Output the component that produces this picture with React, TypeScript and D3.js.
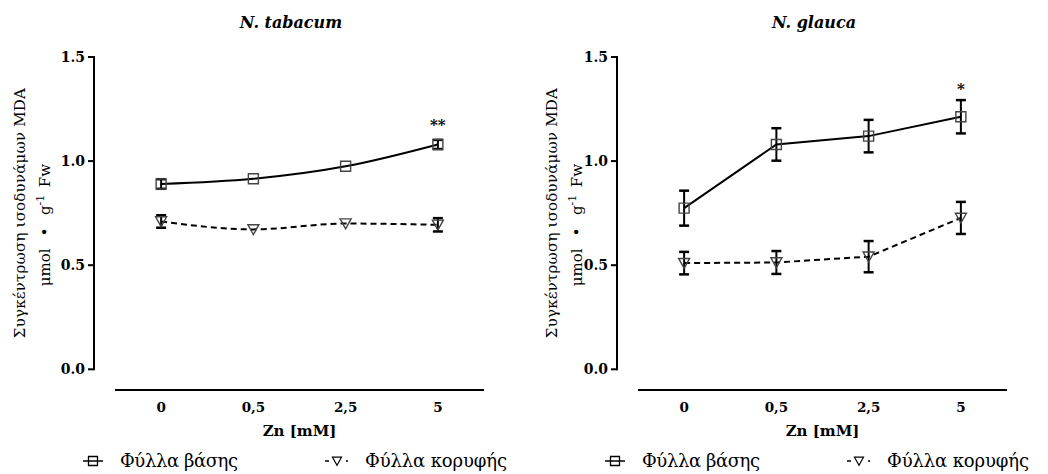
import React from "react";
import * as d3 from "d3";

const categories = ["0", "0,5", "2,5", "5"];
const yTicks = [0, 0.5, 1.0, 1.5];

const tabacumBase = [0.89, 0.915, 0.975, 1.08];
const tabacumBaseErr = [0.023, 0, 0, 0.022];
const tabacumTop = [0.71, 0.672, 0.7, 0.694];
const tabacumTopErr = [0.03, 0, 0, 0.032];

const glaucaBase = [0.774, 1.08, 1.12, 1.213];
const glaucaBaseErr = [0.084, 0.078, 0.078, 0.08];
const glaucaTop = [0.51, 0.513, 0.541, 0.727];
const glaucaTopErr = [0.054, 0.055, 0.075, 0.077];

const titles = ["N. tabacum", "N. glauca"];
const stars = ["**", "*"];
const legendLabels = ["Φύλλα βάσης", "Φύλλα κορυφής"];
const yLabel1 = "Συγκέντρωση ισοδυνάμων MDA";
const xLabel = "Zn [mM]";

const FONT = "DejaVu Serif, serif";

type PanelProps = {
  dx: number;
  title: string;
  base: number[];
  baseErr: number[];
  top: number[];
  topErr: number[];
  star: string;
  curved: boolean;
  labelOffset: number;
};

function sqPath(s: number) {
  return `M${-s},${-s}H${s}V${s}H${-s}Z`;
}
function triPath(s: number) {
  return `M${-s},${-s * 0.85}H${s}L0,${s * 0.95}Z`;
}

function Panel({ dx, title, base, baseErr, top, topErr, star, curved, labelOffset }: PanelProps) {
  const axisX = 94 + dx;
  const x = d3.scaleBand<string>().domain(categories).range([115 + dx, 484 + dx]);
  const cx = (c: string) => (x(c) as number) + x.bandwidth() / 2;
  const y = d3.scaleLinear().domain([0, 1.5]).range([369.3, 57]);
  const line = d3
    .line<number>()
    .x((_, i) => cx(categories[i]))
    .y((v) => y(v))
    .curve(curved ? d3.curveMonotoneX : d3.curveLinear);

  const errBars = (vals: number[], errs: number[], key: string) =>
    vals.map((v, i) => {
      if (!errs[i]) return null;
      const px = cx(categories[i]);
      const y1 = y(v + errs[i]);
      const y2 = y(v - errs[i]);
      return (
        <g key={key + i} stroke="#000" strokeWidth={2}>
          <line x1={px} x2={px} y1={y1} y2={y2} />
          <line x1={px - 5} x2={px + 5} y1={y1} y2={y1} strokeWidth={2.5} />
          <line x1={px - 5} x2={px + 5} y1={y2} y2={y2} strokeWidth={2.5} />
        </g>
      );
    });

  const yMid = (y(0) + y(1.5)) / 2;
  const lx1 = axisX - labelOffset;
  const lx2 = lx1 + 25;

  return (
    <g style={{ fontFamily: FONT }}>
      <text x={291 + dx} y={28} textAnchor="middle" fontSize={16} fontWeight="bold" fontStyle="italic">
        {title}
      </text>
      <line x1={axisX} x2={axisX} y1={y(1.5) - 1} y2={y(0) + 1} stroke="#000" strokeWidth={2} />
      {yTicks.map((t) => (
        <g key={t}>
          <line x1={axisX - 6} x2={axisX} y1={y(t)} y2={y(t)} stroke="#000" strokeWidth={2} />
          <text x={axisX - 9} y={y(t)} dy="0.35em" textAnchor="end" fontSize={14} fontWeight="bold">
            {t.toFixed(1)}
          </text>
        </g>
      ))}
      <line x1={115 + dx} x2={484 + dx} y1={390} y2={390} stroke="#000" strokeWidth={2} />
      {categories.map((c) => (
        <text key={c} x={cx(c)} y={412} textAnchor="middle" fontSize={13.5} fontWeight="bold">
          {c}
        </text>
      ))}
      <text x={(x.range()[0] + x.range()[1]) / 2} y={436} textAnchor="middle" fontSize={15} fontWeight="bold">
        {xLabel}
      </text>
      <text transform={`translate(${lx1},${yMid}) rotate(-90)`} textAnchor="middle" dy="0.35em" fontSize={15} textLength={250} lengthAdjust="spacing">
        {yLabel1}
      </text>
      <text transform={`translate(${lx2},${yMid + 12}) rotate(-90)`} textAnchor="middle" dy="0.35em" fontSize={15}>
        {"μmol \u2002•\u2002 g"}
        <tspan dy="-6" fontSize={11}>-1</tspan>
        <tspan dy="6">{"\u2002Fw"}</tspan>
      </text>
      <path d={line(base) || ""} fill="none" stroke="#000" strokeWidth={2} />
      <path d={line(top) || ""} fill="none" stroke="#000" strokeWidth={2} strokeDasharray="6,4" />
      {errBars(base, baseErr, "b")}
      {errBars(top, topErr, "t")}
      {base.map((v, i) => (
        <path key={"bm" + i} d={sqPath(5)} transform={`translate(${cx(categories[i])},${y(v)})`} fill="none" stroke="#444" strokeWidth={1.4} />
      ))}
      {top.map((v, i) => (
        <path key={"tm" + i} d={triPath(5.5)} transform={`translate(${cx(categories[i])},${y(v)})`} fill="none" stroke="#444" strokeWidth={1.4} />
      ))}
      <text x={cx(categories[3])} y={y(base[3] + baseErr[3]) - (star.length > 1 ? 10 : 6)} textAnchor="middle" fontSize={15} fontWeight="bold">
        {star}
      </text>
    </g>
  );
}

function Legend({ dx }: { dx: number }) {
  const ly = 461;
  const sx = 93 + dx;
  const tx = 337 + dx;
  return (
    <g style={{ fontFamily: FONT }} fontSize={18}>
      <line x1={sx - 10} x2={sx + 10} y1={ly} y2={ly} stroke="#000" strokeWidth={1.5} />
      <path d={sqPath(4.5)} transform={`translate(${sx},${ly})`} fill="none" stroke="#000" strokeWidth={1.3} />
      <text x={sx + 27} y={ly} dy="0.32em" textLength={118} lengthAdjust="spacing">{legendLabels[0]}</text>
      <line x1={tx - 12} x2={tx - 8} y1={ly} y2={ly} stroke="#000" strokeWidth={1.5} />
      <path d={triPath(4.5)} transform={`translate(${tx},${ly})`} fill="none" stroke="#000" strokeWidth={1.2} />
      <line x1={tx + 9} x2={tx + 11} y1={ly} y2={ly} stroke="#000" strokeWidth={1.5} />
      <text x={tx + 28} y={ly} dy="0.32em" textLength={142} lengthAdjust="spacing">{legendLabels[1]}</text>
    </g>
  );
}

export default function App() {
  return (
    <svg width={1048} height={474} style={{ position: "absolute", left: 0, top: 0, background: "#fff" }}>
      <rect width={1048} height={474} fill="#fff" />
      <Panel dx={0} title={titles[0]} base={tabacumBase} baseErr={tabacumBaseErr} top={tabacumTop} topErr={tabacumTopErr} star={stars[0]} curved={true} labelOffset={74} />
      <Panel dx={523} title={titles[1]} base={glaucaBase} baseErr={glaucaBaseErr} top={glaucaTop} topErr={glaucaTopErr} star={stars[1]} curved={false} labelOffset={65} />
      <Legend dx={0} />
      <Legend dx={522} />
    </svg>
  );
}
